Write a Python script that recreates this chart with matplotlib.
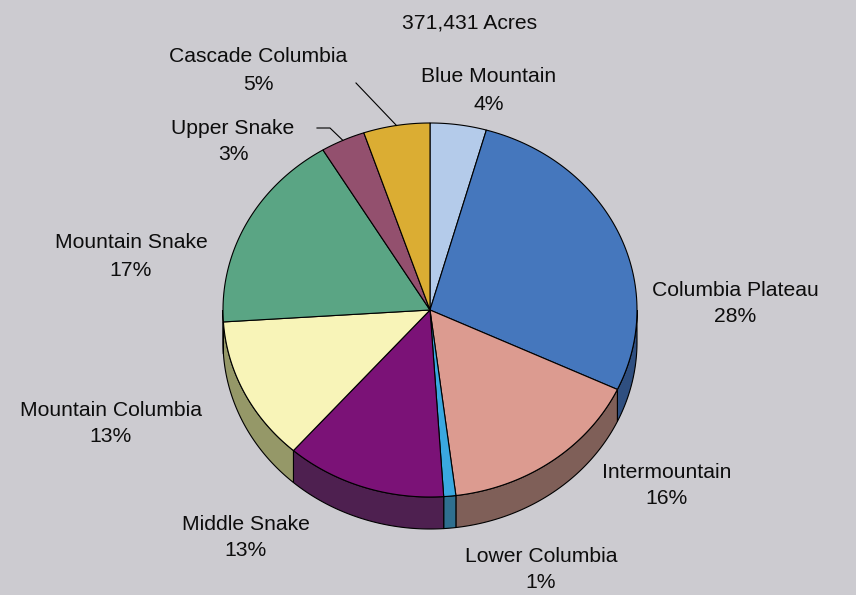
import numpy as np
import matplotlib.pyplot as plt

# acreage by region, clockwise from 12 o'clock
regions = ['Blue Mountain', 'Columbia Plateau', 'Intermountain', 'Lower Columbia',
           'Middle Snake', 'Mountain Columbia', 'Mountain Snake', 'Upper Snake',
           'Cascade Columbia']
acres = [16300, 102500, 59500, 3500, 46500, 46500, 64500, 12900, 19231]
top_colors = ['#b4cbea', '#4577bd', '#dc9b90', '#3aa8e0', '#7b1277',
              '#f8f4b8', '#5aa584', '#93506e', '#dbad33']
side_colors = ['#6c7a8c', '#2f4f80', '#7f5f58', '#2f6f8f', '#4e2050',
               '#959868', '#3a6a55', '#5a3044', '#8a6c20']
# label centres (name line), in pixels
label_pos = [(489, 77), (735, 290), (667, 472), (541, 556), (246, 524),
             (111, 410), (131, 243), (233, 128), (258, 57)]

bg = '#cccbd0'
cx, cy, rx, ry, depth = 430, 310, 207, 187, 32
fs = 15.2

plt.rcParams['font.family'] = ['Liberation Sans', 'DejaVu Sans']

fig = plt.figure(figsize=(8.56, 5.95), dpi=100, facecolor=bg)
ax = fig.add_axes([0, 0, 1, 1])
ax.set_xlim(0, 856)
ax.set_ylim(595, 0)
ax.axis('off')


def arc(t1, t2, n=80):
    t = np.radians(np.linspace(t1, t2, n))
    return cx + rx * np.cos(t), cy - ry * np.sin(t)


total = sum(acres)
fracs = np.array(acres) / total
bounds = 90 - 360 * np.concatenate([[0], np.cumsum(fracs)])

# side walls (only the front half is visible)
for i in range(len(acres)):
    a, b = bounds[i], bounds[i + 1]
    hi, lo = min(a, 0), max(b, -180)
    if hi > lo:
        x, y = arc(hi, lo)
        px = np.concatenate([x, x[::-1]])
        py = np.concatenate([y, y[::-1] + depth])
        ax.fill(px, py, facecolor=side_colors[i], edgecolor='black', lw=0.8, zorder=2)

# top faces
for i in range(len(acres)):
    x, y = arc(bounds[i], bounds[i + 1])
    ax.fill(np.concatenate([[cx], x]), np.concatenate([[cy], y]),
            facecolor=top_colors[i], edgecolor='black', lw=0.8, zorder=3)

# labels
for i, name in enumerate(regions):
    lx, ly = label_pos[i]
    pct = round(fracs[i] * 100)
    ax.text(lx, ly, name, ha='center', va='center', fontsize=fs, color='#0d0d0d')
    ax.text(lx, ly + 27, f'{pct}%', ha='center', va='center', fontsize=fs, color='#0d0d0d')

# leader lines for the two small slices at the top
mid = np.radians((bounds[8] + bounds[9]) / 2)
ax.plot([356, cx + rx * np.cos(mid)], [83, cy - ry * np.sin(mid)], color='black', lw=0.8, zorder=4)
mid = np.radians((bounds[7] + bounds[8]) / 2)
ax.plot([317, 330, cx + rx * np.cos(mid)], [128, 128, cy - ry * np.sin(mid)],
        color='black', lw=0.8, zorder=4)

ax.text(470, 23, f'{total:,} Acres', ha='center', va='center', fontsize=fs, color='#0d0d0d')

fig.savefig('out.png', dpi=100, facecolor=bg)
